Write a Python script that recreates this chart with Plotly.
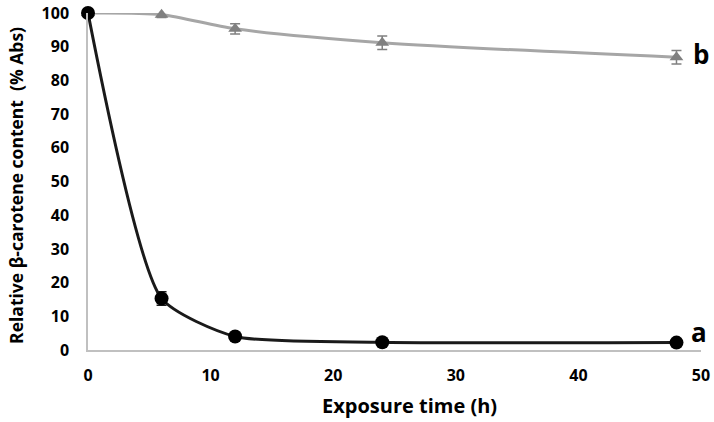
import plotly.graph_objects as go

# exposure time (h)
time_h = [0, 6, 12, 24, 48]

# series a: fast decay (black circles)
a_vals = [100, 15.3, 4.0, 2.3, 2.2]
a_err = [0.5, 2.0, 0.8, 0.5, 0.5]

# series b: slow decay (grey triangles)
b_vals = [100, 99.5, 95.3, 91.2, 86.9]
b_err = [0.3, 0.8, 1.5, 2.0, 2.0]

x_ticks = [0, 10, 20, 30, 40, 50]
y_ticks = [0, 10, 20, 30, 40, 50, 60, 70, 80, 90, 100]

FONT = "Open Sans"

fig = go.Figure()

fig.add_trace(go.Scatter(
    x=time_h, y=b_vals,
    mode='lines+markers',
    line=dict(color='#a6a6a6', width=3, shape='spline', smoothing=0.8),
    marker=dict(symbol='triangle-up', size=12, color='#808080'),
    error_y=dict(type='data', array=b_err, color='#808080', thickness=1.5, width=5),
    cliponaxis=False,
    showlegend=False
))

fig.add_trace(go.Scatter(
    x=time_h, y=a_vals,
    mode='lines+markers',
    line=dict(color='#1a1a1a', width=3, shape='spline', smoothing=0.6),
    marker=dict(symbol='circle', size=14, color='#000000'),
    error_y=dict(type='data', array=a_err, color='#1a1a1a', thickness=1.5, width=5),
    cliponaxis=False,
    showlegend=False
))

# series labels
fig.add_annotation(x=50, y=b_vals[-1] + 1, text="<b>b</b>", showarrow=False,
                   font=dict(family=FONT, size=26, color='#000000'), xanchor='center')
fig.add_annotation(x=50, y=a_vals[-1] + 3, xshift=-2, text="<b>a</b>", showarrow=False,
                   font=dict(family=FONT, size=26, color='#000000'), xanchor='center')

# axis titles as annotations so they can sit where the reference has them
fig.add_annotation(xref='paper', yref='paper', x=0.524, y=0, yshift=-55,
                   text="<b>Exposure time (h)</b>", showarrow=False,
                   font=dict(family=FONT, size=20, color='#000000'), yanchor='middle')
fig.add_annotation(xref='paper', yref='paper', x=0, xshift=-72, y=0.487,
                   text="<b>Relative β-carotene content  (% Abs)</b>", showarrow=False,
                   textangle=-90, font=dict(family=FONT, size=17.5, color='#000000'),
                   xanchor='center')

fig.update_layout(
    width=714, height=422,
    margin=dict(l=88, r=13, t=13, b=72, autoexpand=False),
    plot_bgcolor='white',
    paper_bgcolor='white',
    font=dict(family=FONT, color='#000000'),
    xaxis=dict(
        range=[0, 50], tickvals=x_ticks, showgrid=False, zeroline=False,
        showline=True, linecolor='#c0c0c0', linewidth=1.5,
        tickfont=dict(family=FONT, size=16, color='#000000', weight='bold'),
        ticks='', ticklabelstandoff=10, automargin=False, ticklabeloverflow='allow'
    ),
    yaxis=dict(
        range=[0, 100], tickvals=y_ticks, showgrid=False, zeroline=False,
        showline=True, linecolor='#c0c0c0', linewidth=1.5,
        tickfont=dict(family=FONT, size=16, color='#000000', weight='bold'),
        ticks='', ticklabelstandoff=14, automargin=False, ticklabeloverflow='allow'
    ),
)

# drop the default 8px body margin so the figure sits at the window corner
fig.write_html("out.html", config={'displayModeBar': False},
               post_script="document.body.style.margin='0';")
